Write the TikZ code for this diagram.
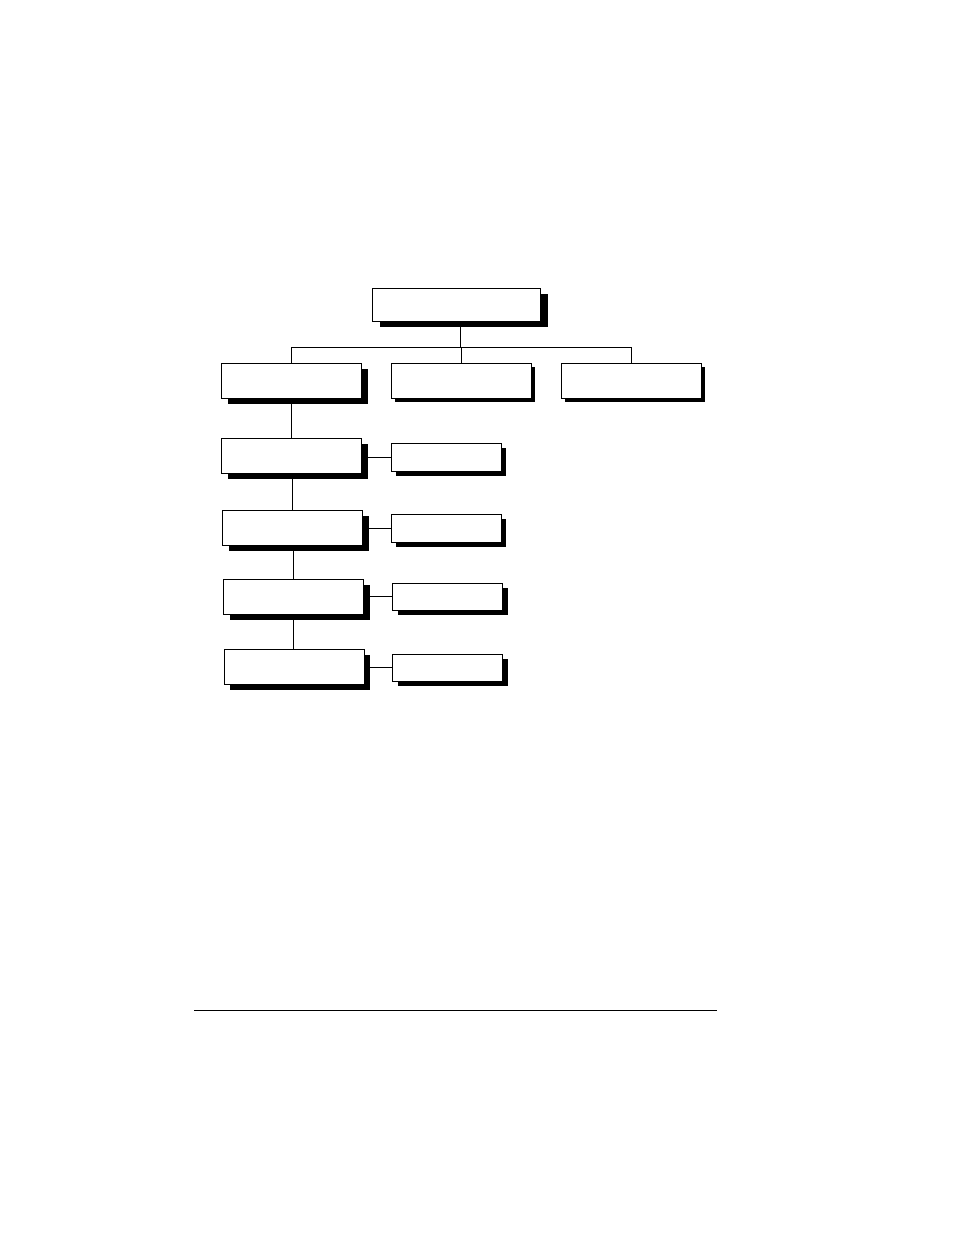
\documentclass[tikz,border=0pt]{standalone}
\usetikzlibrary{shadows}
\def\bigw{140pt}
\def\bigh{35pt}
\def\smallw{110pt}
\def\smallh{28pt}
\tikzset{
	bigbox/.style={draw=black,fill=white,line width=1pt,inner sep=0pt,
		minimum width=\bigw,minimum height=\bigh,
		drop shadow={shadow xshift=6pt,shadow yshift=-6pt,fill=black,opacity=1}},
	flatbox/.style={draw=black,fill=white,line width=1pt,inner sep=0pt,
		minimum width=\bigw,minimum height=\bigh,
		drop shadow={shadow xshift=3pt,shadow yshift=-4pt,fill=black,opacity=1}},
	smallbox/.style={draw=black,fill=white,line width=1pt,inner sep=0pt,
		minimum width=\smallw,minimum height=\smallh,
		drop shadow={shadow xshift=5pt,shadow yshift=-4.5pt,fill=black,opacity=1}},
	link/.style={draw=black,line width=1pt}
}

\begin{document}
\begin{tikzpicture}[x=1pt,y=-1pt]

	\useasboundingbox (0,0) rectangle (954,1235);

	%%% Top box
	\node[draw=black,fill=white,line width=1pt,inner sep=0pt,
		minimum width=168pt,minimum height=33pt,
		drop shadow={shadow xshift=7pt,shadow yshift=-5pt,fill=black,opacity=1}] (top) at (456.5,305.3) {};

	%%% Second row
	\node[bigbox] (p1) at (291.7,380.8) {};
	\node[flatbox] (p2) at (461.7,380.8) {};
	\node[flatbox] (p3) at (631.7,380.8) {};

	%%% Left column
	\node[bigbox] (a) at (291.7,455.8) {};
	\node[bigbox] (b) at (292.5,527.7) {};
	\node[bigbox] (c) at (293.5,596.8) {};
	\node[bigbox] (d) at (294.0,666.8) {};

	%%% Side boxes
	\node[smallbox] (s1) at (446.0,457.5) {};
	\node[smallbox] (s2) at (446.3,528.5) {};
	\node[smallbox,minimum height=27pt] (s3) at (447.5,596.8) {};
	\node[smallbox,minimum height=27pt] (s4) at (447.5,667.8) {};

	%%% Bus under the top box
	\coordinate (bus) at (460,347);
	\draw[link] (top.south -| bus) -- (bus);
	\draw[link] (p1.north) |- (p3.north |- bus) -- (p3.north);
	\draw[link] (p2.north) -- (p2.north |- bus);

	%%% Chain down the left
	\draw[link] (p1.south) -- (a.north);
	\draw[link] (b.north |- a.south) -- (b.north);
	\draw[link] (c.north |- b.south) -- (c.north);
	\draw[link] (c.south) -- (c.south |- d.north);

	%%% Side links
	\draw[link] (a.east |- s1.west) -- (s1.west);
	\draw[link] (b.east |- s2.west) -- (s2.west);
	\draw[link] (c.east |- s3.west) -- (s3.west);
	\draw[link] (d.east |- s4.west) -- (s4.west);

	%%% Rule at the foot
	\coordinate (rulel) at (194,1010);
	\coordinate (ruler) at (717,1010);
	\draw[link] (rulel) -- (ruler);

\end{tikzpicture}
\end{document}
